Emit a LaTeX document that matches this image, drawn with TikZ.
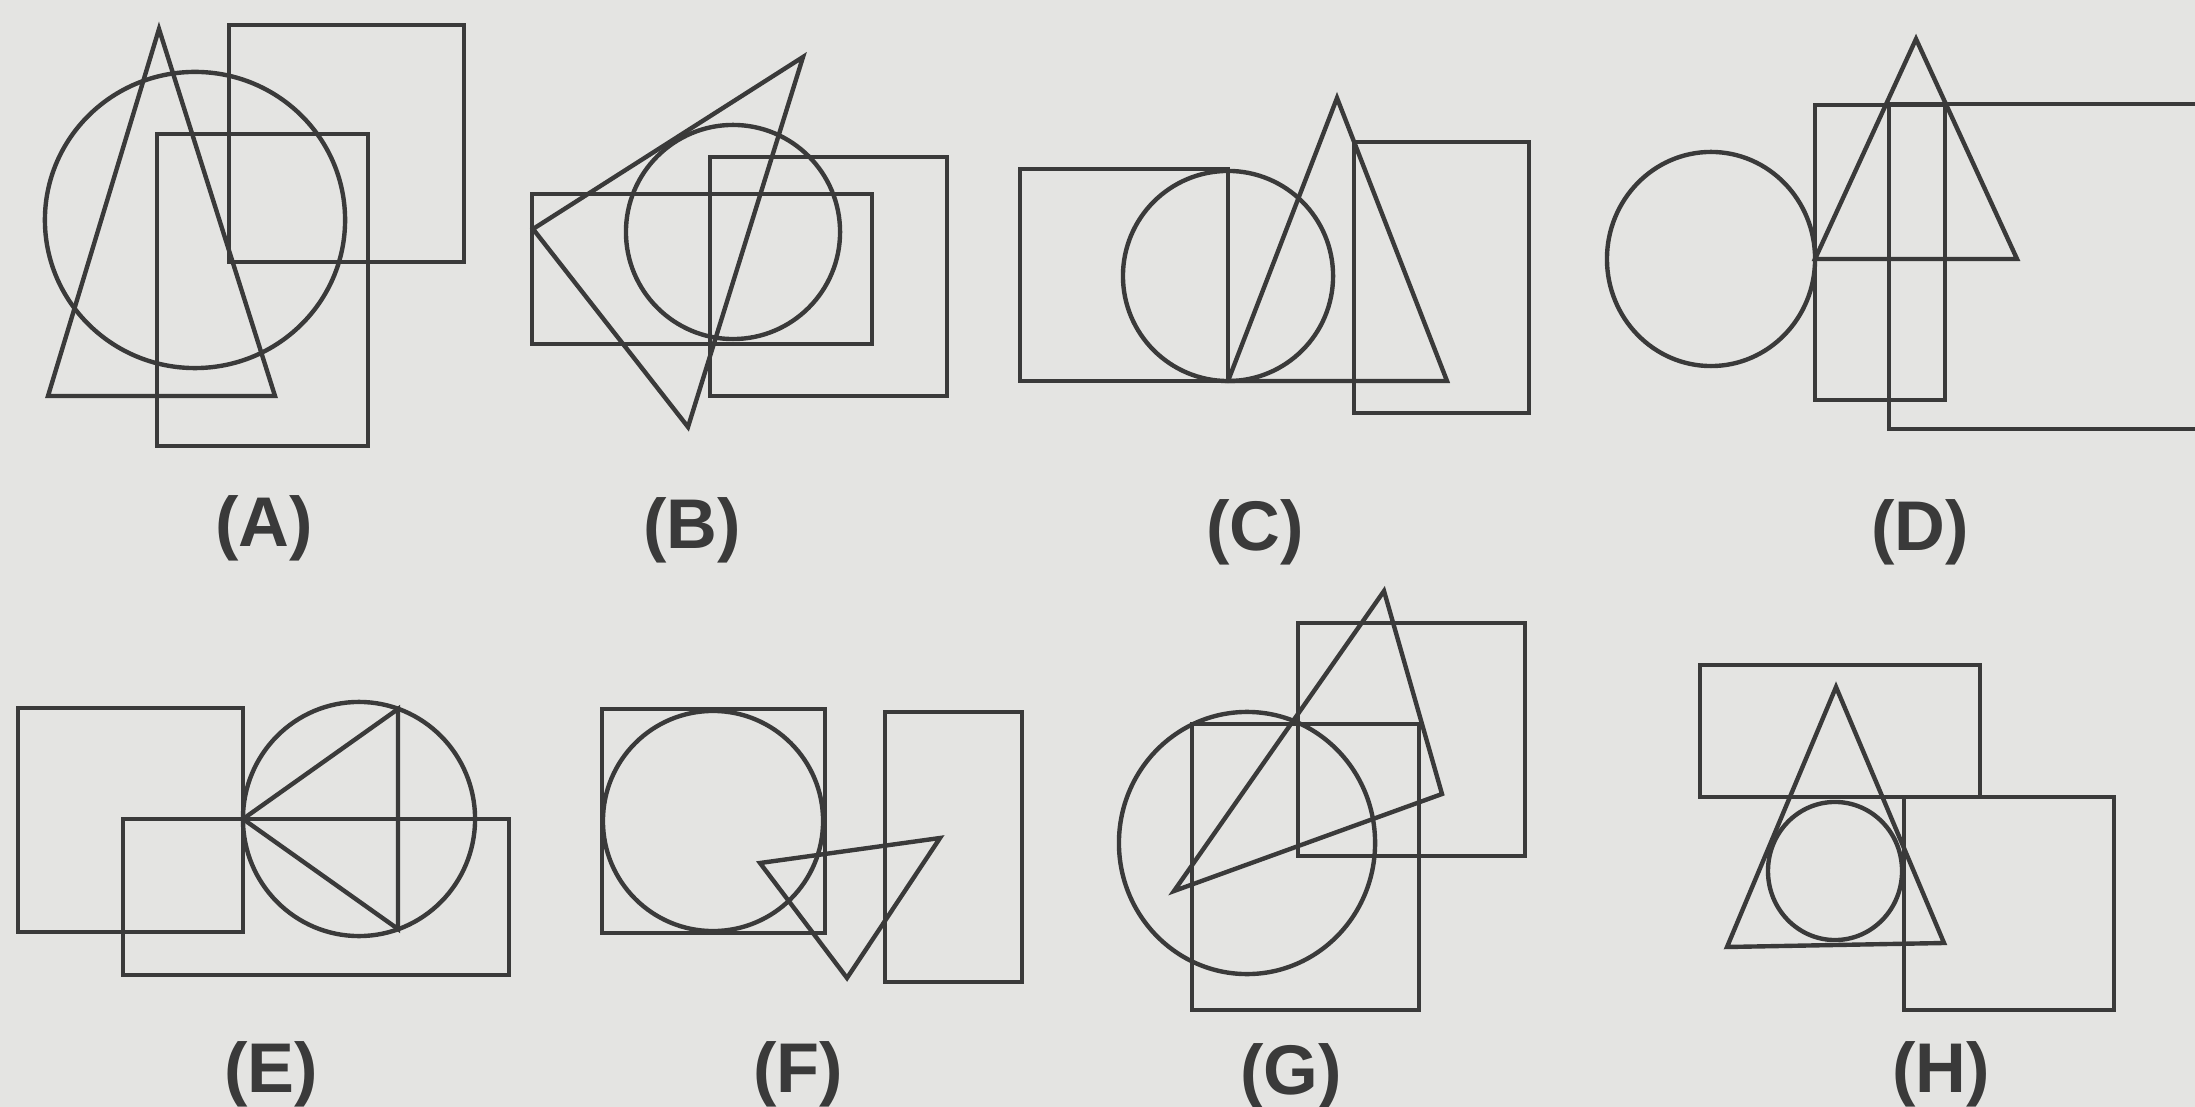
\documentclass[tikz,border=0pt]{standalone}
\usepackage{fontspec}
\setmainfont{Liberation Sans}
\definecolor{scanbg}{RGB}{228,228,226}
\definecolor{inkgray}{RGB}{58,58,58}
\tikzset{
  outline/.style={draw=inkgray, line width=1.25pt, line join=miter},
  figlabel/.style={text=inkgray, font=\fontsize{20}{24}\selectfont\bfseries, inner sep=0pt}
}

\begin{document}
\begin{tikzpicture}[x=0.01cm, y=-0.01cm]
  \clip (0,0) rectangle (2195,1107);
  \fill[scanbg] (0,0) rectangle (2195,1107);
  % (A)
  \draw[outline] (229,25) rectangle (464,262);
  \draw[outline] (157,134) rectangle (368,446);
  \draw[outline] (195,220) ellipse [x radius=1.50cm, y radius=1.48cm];
  \draw[outline] (159,29) -- (48,396) -- (275,396) -- cycle;
  \node[figlabel] (labA) at (264,528) {(A)};
  % (B)
  \draw[outline] (532,194) rectangle (872,344);
  \draw[outline] (710,157) rectangle (947,396);
  \draw[outline] (733,232) circle [radius=1.07cm];
  \draw[outline] (533,229) -- (803,57) -- (688,427) -- cycle;
  \node[figlabel] (labB) at (692,530) {(B)};
  % (C)
  \draw[outline] (1020,169) rectangle (1228,381);
  \draw[outline] (1228,276) circle [radius=1.05cm];
  \draw[outline] (1337,98) -- (1228,381) -- (1447,381) -- cycle;
  \draw[outline] (1354,142) rectangle (1529,413);
  \node[figlabel] (labC) at (1255,532) {(C)};
  % (D)
  \draw[outline] (1711,259) ellipse [x radius=1.04cm, y radius=1.07cm];
  \draw[outline] (1916,39) -- (1815,259) -- (2017,259) -- cycle;
  \draw[outline] (1815,105) rectangle (1945,400);
  \draw[outline] (1889,104) rectangle (2230,429);
  \node[figlabel] (labD) at (1920,532) {(D)};
  % (E)
  \draw[outline] (18,708) rectangle (243,932);
  \draw[outline] (123,819) rectangle (509,975);
  \draw[outline] (359,819) ellipse [x radius=1.16cm, y radius=1.17cm];
  \draw[outline] (243,819) -- (398,709) -- (398,929) -- cycle;
  \node[figlabel] (labE) at (271,1074) {(E)};
  % (F)
  \draw[outline] (602,709) rectangle (825,933);
  \draw[outline] (713,821) circle [radius=1.10cm];
  \draw[outline] (885,712) rectangle (1022,982);
  \draw[outline] (760,863) -- (940,838) -- (847,978) -- cycle;
  \node[figlabel] (labF) at (798,1074) {(F)};
  % (G)
  \draw[outline] (1298,623) rectangle (1525,856);
  \draw[outline] (1192,724) rectangle (1419,1010);
  \draw[outline] (1247,843) ellipse [x radius=1.28cm, y radius=1.31cm];
  \draw[outline] (1384,591) -- (1442,794) -- (1174,891) -- cycle;
  \node[figlabel] (labG) at (1291,1076) {(G)};
  % (H)
  \draw[outline] (1700,665) rectangle (1980,797);
  \draw[outline] (1904,797) rectangle (2114,1010);
  \draw[outline] (1836,687) -- (1727,947) -- (1944,943) -- cycle;
  \draw[outline] (1835,871) ellipse [x radius=0.67cm, y radius=0.69cm];
  \node[figlabel] (labH) at (1941,1074) {(H)};
\end{tikzpicture}
\end{document}
